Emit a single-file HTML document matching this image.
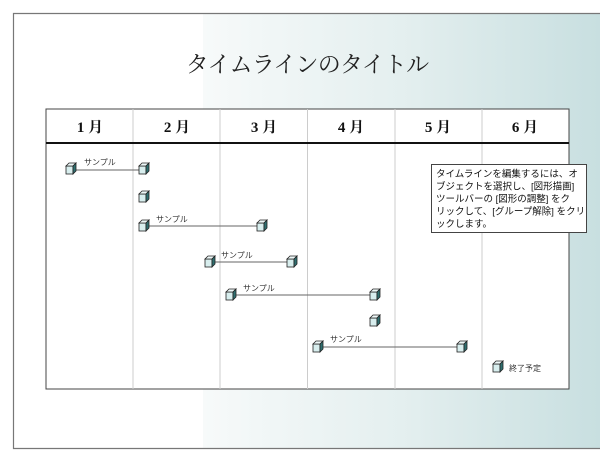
<!DOCTYPE html>
<html><head><meta charset="utf-8"><style>
html,body{margin:0;padding:0;background:#fff;}
svg{display:block;}
.m{font-family:"Liberation Serif","Noto Serif CJK SC",serif;font-weight:bold;font-size:15px;fill:#111;}
.s{font-family:"Liberation Sans","Noto Sans CJK JP",sans-serif;font-size:8px;fill:#333;}
.t{font-family:"Liberation Sans","Noto Sans CJK JP",sans-serif;font-size:9.5px;fill:#111;}
</style></head><body>
<svg width="600" height="462" viewBox="0 0 600 462" xmlns="http://www.w3.org/2000/svg">
<defs>
<linearGradient id="g" x1="0" x2="1" y1="0" y2="0">
<stop offset="0" stop-color="#f7fafa"/><stop offset="0.5" stop-color="#e4efef"/><stop offset="1" stop-color="#c8dfe0"/>
</linearGradient>
<g id="c">
<rect x="-5" y="-3" width="7" height="8" fill="#d8eeee" stroke="#222" stroke-width="0.8"/>
<polygon points="-5,-3 -2,-6 5,-6 2,-3" fill="#eef8f8" stroke="#222" stroke-width="0.8"/>
<polygon points="2,-3 5,-6 5,2 2,5" fill="#2f6f70" stroke="#222" stroke-width="0.8"/>
</g>
</defs>
<rect x="0" y="0" width="600" height="462" fill="#fff"/>
<rect x="203" y="14" width="397" height="434" fill="url(#g)"/>
<path d="M600 13.5 H13.5 V448.5 H600" fill="none" stroke="#777" stroke-width="1.2"/>
<text x="307" y="72" text-anchor="middle" font-family="'Noto Serif CJK SC',serif" font-size="23" letter-spacing="-0.8" fill="#222">タイムラインのタイトル</text>
<rect x="46" y="109" width="523" height="280" fill="#fff" stroke="#444" stroke-width="1"/>
<g stroke="#ccc" stroke-width="1">
<line x1="133" y1="109" x2="133" y2="389"/><line x1="220" y1="109" x2="220" y2="389"/>
<line x1="307.5" y1="109" x2="307.5" y2="389"/><line x1="395" y1="109" x2="395" y2="389"/>
<line x1="482" y1="109" x2="482" y2="389"/>
</g>
<line x1="46" y1="143" x2="569" y2="143" stroke="#111" stroke-width="2"/>
<g class="m" text-anchor="middle">
<text x="90" y="132">1 月</text><text x="177" y="132">2 月</text><text x="264" y="132">3 月</text>
<text x="351" y="132">4 月</text><text x="438" y="132">5 月</text><text x="525" y="132">6 月</text>
</g>
<g stroke="#666" stroke-width="1">
<line x1="74" y1="170" x2="142" y2="170"/>
<line x1="146" y1="226" x2="260" y2="226"/>
<line x1="212" y1="262" x2="290" y2="262"/>
<line x1="233" y1="295" x2="373" y2="295"/>
<line x1="320" y1="347" x2="460" y2="347"/>
</g>
<use href="#c" x="71" y="169"/><use href="#c" x="144" y="169"/>
<use href="#c" x="144" y="197"/>
<use href="#c" x="144" y="226"/><use href="#c" x="262" y="226"/>
<use href="#c" x="210" y="262"/><use href="#c" x="292" y="262"/>
<use href="#c" x="231" y="295"/><use href="#c" x="375" y="295"/>
<use href="#c" x="375" y="321"/>
<use href="#c" x="318" y="347"/><use href="#c" x="462" y="347"/>
<use href="#c" x="498" y="367"/>
<g class="s">
<text x="84" y="165">サンプル</text><text x="156" y="222">サンプル</text>
<text x="221" y="258">サンプル</text><text x="243" y="291">サンプル</text>
<text x="330" y="342">サンプル</text>
<text x="509" y="371">終了予定</text>
</g>
<rect x="431.5" y="164.5" width="155" height="68" fill="#fff" stroke="#444" stroke-width="1"/>
<g class="t">
<text x="436" y="177">タイムラインを編集するには、オ</text>
<text x="436" y="189.5">ブジェクトを選択し、[図形描画]</text>
<text x="436" y="202">ツールバーの [図形の調整] をク</text>
<text x="436" y="214.5">リックして、[グループ解除] をクリ</text>
<text x="436" y="227">ックします。</text>
</g>
</svg>
</body></html>
